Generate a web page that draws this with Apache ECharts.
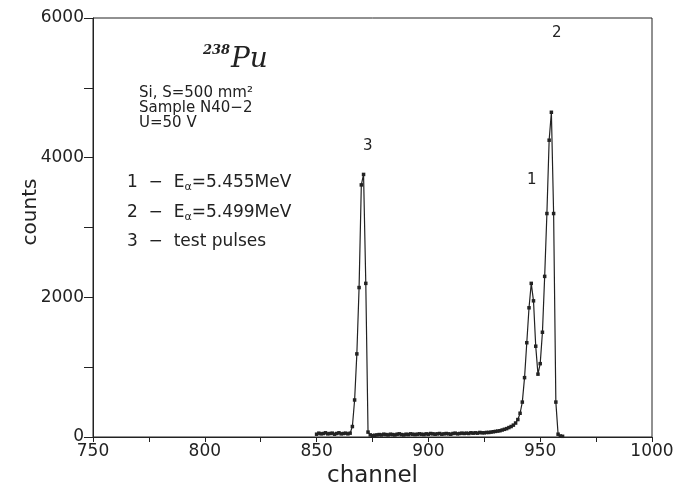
<!DOCTYPE html>
<html>
<head>
<meta charset="utf-8">
<script src="https://cdn.jsdelivr.net/npm/echarts@6/dist/echarts.min.js"></script>
<style>
html,body{margin:0;padding:0;background:#fff;}
#c{width:676px;height:488px;}
</style>
</head>
<body>
<div id="c"></div>
<script>
// channels 850..960
const channels = [
  850,851,852,853,854,855,856,857,858,859,860,861,862,863,864,865,
  866,867,868,869,870,871,872,873,874,875,
  876,877,878,879,880,881,882,883,884,885,886,887,888,889,890,891,892,893,894,895,
  896,897,898,899,900,901,902,903,904,905,906,907,908,909,910,911,912,913,914,915,
  916,917,918,919,920,921,922,923,924,925,926,927,928,929,930,931,932,933,934,935,
  936,937,938,939,940,941,942,943,944,945,946,947,948,949,950,951,952,953,954,955,
  956,957,958,959,960
];
const counts = [
  40,55,45,50,60,45,50,55,40,50,60,45,50,55,45,55,
  150,530,1190,2140,3610,3760,2200,70,30,20,
  25,30,35,30,40,35,30,40,35,30,40,45,35,30,40,35,45,40,35,40,
  45,40,35,45,40,50,45,40,45,50,40,45,50,45,40,50,55,45,50,55,
  50,55,50,60,55,60,55,65,60,60,65,65,70,75,80,85,90,100,110,120,
  135,150,170,200,250,340,500,850,1350,1850,2200,1950,1300,900,1050,1500,2300,3200,4250,4650,
  3200,500,40,15,10
];
const xTicks = {min: 750, max: 1000, step: 25, labelStep: 50};
const yTicks = {min: 0, max: 6000, step: 1000, labelStep: 2000};
const peakLabels = ['3', '2', '1'];
const infoLines = ['Si, S=500 mm\u00b2', 'Sample N40\u22122', 'U=50 V'];
const legendNums = ['1', '2', '3'];
const legendTexts = ['5.455MeV', '5.499MeV', 'test pulses'];

const data = channels.map((c, i) => [c, counts[i]]);
const FONT = '"DejaVu Sans", sans-serif';
const INK = '#222222';

const chart = echarts.init(document.getElementById('c'), null, {renderer: 'canvas'});

const legendGraphics = legendNums.map((n, i) => {
  const y = 184 + i * 30;
  const txt = i < 2
    ? '{n|' + n + '  \u2212  E}{s|\u03b1}{n|=' + legendTexts[i] + '}'
    : '{n|' + n + '  \u2212  ' + legendTexts[i] + '}';
  return {
    type: 'text', left: 127, top: y - 11,
    style: {
      text: txt, fill: INK,
      rich: {
        n: {fontFamily: FONT, fontSize: 17, fill: INK, lineHeight: 22},
        s: {fontFamily: FONT, fontSize: 11, fill: INK, lineHeight: 22, padding: [9, 0, 0, 0]}
      }
    }
  };
});

const infoGraphics = infoLines.map((t, i) => ({
  type: 'text', left: 139, top: 86 + i * 15,
  style: {text: t, font: '15px ' + FONT, fill: INK}
}));

chart.setOption({
  animation: false,
  grid: {left: 93, right: 24, top: 18, bottom: 51, show: true, borderColor: INK, borderWidth: 1,
    backgroundColor: 'transparent', containLabel: false, outerBoundsMode: 'none'},
  xAxis: {
    type: 'value', min: xTicks.min, max: xTicks.max, interval: xTicks.step,
    name: 'channel', nameLocation: 'middle', nameGap: 28,
    nameTextStyle: {fontFamily: FONT, fontSize: 23, color: INK},
    axisLine: {lineStyle: {color: INK, width: 1}},
    axisTick: {show: true, inside: false, length: 5, lineStyle: {color: INK}},
    splitLine: {show: false},
    axisLabel: {
      fontFamily: FONT, fontSize: 17, color: INK, margin: 6,
      formatter: v => (v % xTicks.labelStep === 0 ? String(v) : '')
    }
  },
  yAxis: {
    type: 'value', min: yTicks.min, max: yTicks.max, interval: yTicks.step,
    axisLine: {show: true, lineStyle: {color: INK, width: 1}},
    axisTick: {show: true, inside: false, length: 9, lineStyle: {color: INK}},
    splitLine: {show: false},
    axisLabel: {
      fontFamily: FONT, fontSize: 17, color: INK, margin: 9,
      formatter: v => (v % yTicks.labelStep === 0 ? String(v) : '')
    }
  },
  series: [{
    type: 'line', data: data,
    symbol: 'rect', symbolSize: 3.5, showSymbol: true,
    lineStyle: {color: INK, width: 1.2},
    itemStyle: {color: INK}
  }],
  graphic: [
    {type: 'text', x: 31, y: 212, rotation: Math.PI / 2,
      style: {text: 'counts', font: '20px ' + FONT, fill: INK, align: 'center', verticalAlign: 'middle'}},
    {type: 'text', left: 203, top: 44, style: {text: '238', font: 'italic bold 13px "DejaVu Serif", serif', fill: INK}},
    {type: 'text', left: 231, top: 46, style: {text: 'Pu', font: 'italic 28px "DejaVu Serif", serif', fill: INK}},
    ...infoGraphics,
    ...legendGraphics,
    {type: 'text', left: 363, top: 139, style: {text: peakLabels[0], font: '15px ' + FONT, fill: INK}},
    {type: 'text', left: 552, top: 26, style: {text: peakLabels[1], font: '15px ' + FONT, fill: INK}},
    {type: 'text', left: 527, top: 173, style: {text: peakLabels[2], font: '15px ' + FONT, fill: INK}}
  ]
});
</script>
</body>
</html>
